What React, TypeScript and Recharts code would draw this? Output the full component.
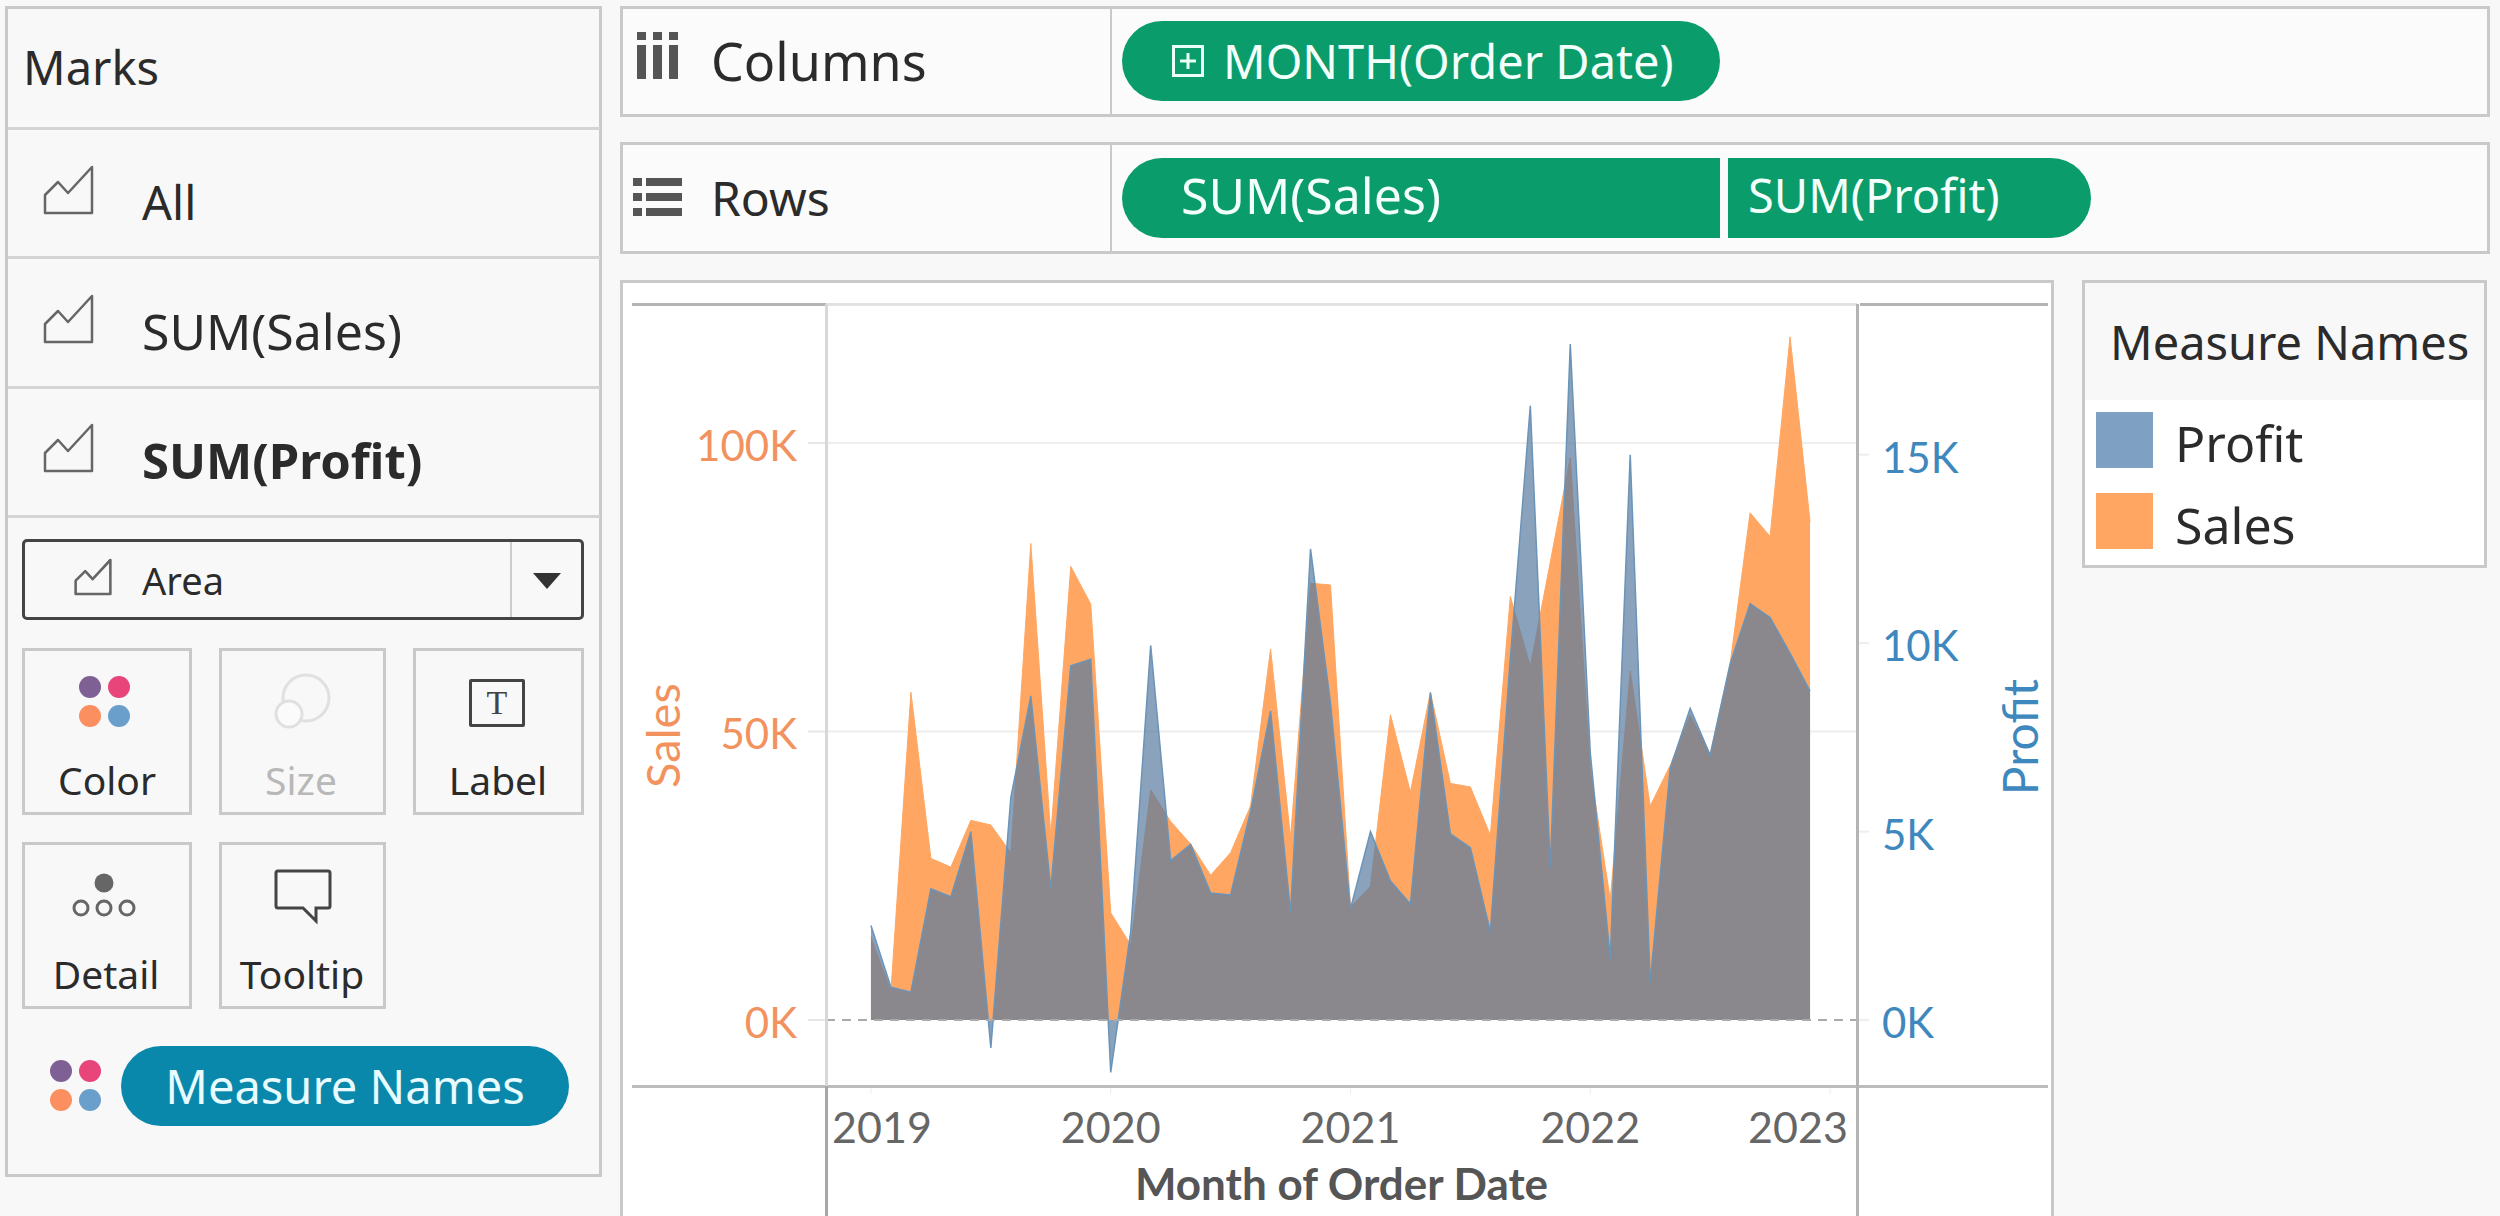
import React from "react";
import {
  Area,
  AreaChart,
  CartesianGrid,
  ReferenceLine,
  XAxis,
  YAxis,
} from "recharts";

// Jan 2019 .. Dec 2022
const sales = [
  14400, 5000, 56800, 28000, 26500, 34600, 33800, 29000, 82600, 32000, 78600, 72100,
  18600, 13000, 39900, 34400, 30500, 25100, 29000, 37100, 64300, 31600, 75700, 75400,
  19500, 23200, 52900, 39500, 56800, 41000, 40400, 32000, 73400, 61300, 79400, 97500,
  43500, 20900, 60500, 37100, 44100, 52900, 46000, 61700, 87900, 83800, 118400, 86400,
];
const profit = [
  2510, 870, 740, 3480, 3270, 5000, -740, 5900, 8600, 3480, 9400, 9570,
  -1390, 2340, 9940, 4230, 4660, 3370, 3320, 5540, 8200, 2840, 12500, 8400,
  2950, 5000, 3690, 3080, 8690, 4940, 4570, 2340, 9600, 16300, 4050, 17940,
  7100, 1630, 15000, 1000, 6680, 8270, 7030, 9450, 11050, 10680, 9730, 8730,
];
const yearTicks = [0, 12, 24, 36, 48];
const yearLabels = ["2019", "2020", "2021", "2022", "2023"];
const salesTicks = [0, 50000, 100000];
const profitTicks = [0, 5000, 10000, 15000];
const salesGrid = [50000, 100000];
const markRows = ["All", "SUM(Sales)", "SUM(Profit)"];
const legendItems = ["Profit", "Sales"];
const dotColors = ["#7f6095", "#e8457a", "#fb8f5f", "#6a9ecb"];

const chartData = sales.map((s, i) => ({ month: i, sales: s, profit: profit[i] }));

const FONT = "'Noto Sans', sans-serif";
const AXIS_FONT = "Lato, 'Noto Sans', sans-serif";
const BORDER = "#c9c9c9";
const GREEN = "#0a9c6a";
const ORANGE_TEXT = "#f2925e";
const BLUE_TEXT = "#3f88bd";

const Box = ({ l, t, w, h, style, children }: any) => (
  <div
    style={{
      position: "absolute",
      left: l,
      top: t,
      width: w,
      height: h,
      boxSizing: "border-box",
      ...style,
    }}
  >
    {children}
  </div>
);

const Txt = ({ x, y, size = 44, color = "#2b2b2b", bold, anchor, children }: any) => (
  <div
    style={{
      position: "absolute",
      left: x,
      top: y,
      transform: `translate(${anchor === "middle" ? "-50%" : "0"}, -50%)`,
      fontFamily: FONT,
      fontSize: size,
      fontWeight: bold ? 700 : 400,
      color,
      lineHeight: 1,
      whiteSpace: "nowrap",
    }}
  >
    {children}
  </div>
);

const AreaIcon = ({ x, y, w = 47, h = 46 }: any) => (
  <svg
    style={{ position: "absolute", left: x, top: y, overflow: "visible" }}
    width={w}
    height={h}
    viewBox="0 0 47 46"
  >
    <path
      d="M0 46 V28 L13 15 L23 26 L47 0 V46 Z"
      fill="none"
      stroke="#666"
      strokeWidth={47 / w > 1 ? 3.5 : 2.5}
      strokeLinejoin="round"
    />
  </svg>
);

const Dots = ({ x, y }: any) => (
  <svg style={{ position: "absolute", left: x, top: y }} width={54} height={54}>
    <circle cx={12} cy={12} r={11} fill={dotColors[0]} />
    <circle cx={41} cy={12} r={11} fill={dotColors[1]} />
    <circle cx={12} cy={41} r={11} fill={dotColors[2]} />
    <circle cx={41} cy={41} r={11} fill={dotColors[3]} />
  </svg>
);

const card = { border: `3px solid ${BORDER}` };

const YearTick = ({ x, y, payload, index }: any) => (
  <text
    x={Math.min(Math.max(x, 882), 1798)}
    y={y + 47}
    textAnchor="middle"
    fontFamily={AXIS_FONT}
    fontSize={43}
    fill="#666"
  >
    {yearLabels[index ?? yearTicks.indexOf(payload.value)]}
  </text>
);

const MarksPanel = () => (
  <>
    <Box l={5} t={6} w={597} h={1171} style={{ border: `3px solid ${BORDER}` }} />
    {[127, 256, 386, 515].map((t) => (
      <Box key={t} l={8} t={t} w={592} h={3} style={{ background: "#d4d4d4" }} />
    ))}
    <Txt x={23} y={67} size={47}>Marks</Txt>
    {markRows.map((m, i) => (
      <React.Fragment key={m}>
        <AreaIcon x={45} y={167 + i * 129} />
        <Txt x={142} y={202 + i * 129} size={i === 0 ? 47 : i === 1 ? 50 : 49} bold={i === 2}>{m}</Txt>
      </React.Fragment>
    ))}

    <Box l={22} t={539} w={562} h={81} style={{ border: "3px solid #444", borderRadius: 5 }} />
    <Box l={510} t={542} w={2} h={75} style={{ background: "#ccc" }} />
    <svg style={{ position: "absolute", left: 533, top: 573 }} width={28} height={16}>
      <path d="M0 0 H28 L14 16 Z" fill="#333" />
    </svg>
    <AreaIcon x={75} y={560} w={36} h={34} />
    <Txt x={142} y={580} size={38}>Area</Txt>

    <Box l={22} t={648} w={170} h={167} style={card} />
    <Box l={219} t={648} w={167} h={167} style={card} />
    <Box l={413} t={648} w={171} h={167} style={card} />
    <Box l={22} t={842} w={170} h={167} style={card} />
    <Box l={219} t={842} w={167} h={167} style={card} />

    <Dots x={78} y={675} />
    <Txt x={107} y={779} size={39} anchor="middle">Color</Txt>

    <svg style={{ position: "absolute", left: 270, top: 670 }} width={64} height={64}>
      <circle cx={36} cy={28} r={23} fill="none" stroke="#e0e0e0" strokeWidth={3} />
      <circle cx={19} cy={44} r={13} fill="#fbfbfb" stroke="#e0e0e0" strokeWidth={3} />
    </svg>
    <Txt x={301} y={779} size={39} color="#b8b8b8" anchor="middle">Size</Txt>

    <Box l={469} t={679} w={56} h={48} style={{ border: "3px solid #444", borderRadius: 2 }} />
    <div
      style={{
        position: "absolute",
        left: 497,
        top: 703,
        transform: "translate(-50%, -50%)",
        fontFamily: "'Liberation Serif', serif",
        fontSize: 34,
        color: "#444",
        lineHeight: 1,
      }}
    >
      T
    </div>
    <Txt x={498} y={779} size={39} anchor="middle">Label</Txt>

    <svg style={{ position: "absolute", left: 70, top: 870 }} width={70} height={52}>
      <circle cx={34} cy={13} r={9.5} fill="#666" />
      <circle cx={11} cy={38} r={7} fill="none" stroke="#666" strokeWidth={3} />
      <circle cx={34} cy={38} r={7} fill="none" stroke="#666" strokeWidth={3} />
      <circle cx={57} cy={38} r={7} fill="none" stroke="#666" strokeWidth={3} />
    </svg>
    <Txt x={106} y={973} size={39} anchor="middle">Detail</Txt>

    <svg style={{ position: "absolute", left: 270, top: 866 }} width={66} height={60}>
      <path
        d="M8 5 H58 Q60 5 60 7 V40 Q60 42 58 42 H46 V55 L33 42 H8 Q6 42 6 40 V7 Q6 5 8 5 Z"
        fill="none"
        stroke="#444"
        strokeWidth={3}
      />
    </svg>
    <Txt x={302} y={973} size={39} anchor="middle">Tooltip</Txt>

    <Dots x={49} y={1059} />
    <Box l={121} t={1046} w={448} h={80} style={{ background: "#0a88ab", borderRadius: 40 }} />
    <Txt x={345} y={1086} size={47} color="#e8fbff" anchor="middle">Measure Names</Txt>
  </>
);

const Shelves = () => (
  <>
    <Box l={620} t={6} w={1870} h={111} style={{ border: `3px solid ${BORDER}`, background: "#fbfbfb" }} />
    <Box l={620} t={142} w={1870} h={112} style={{ border: `3px solid ${BORDER}`, background: "#fbfbfb" }} />
    <Box l={1110} t={8} w={2} h={107} style={{ background: BORDER }} />
    <Box l={1110} t={145} w={2} h={106} style={{ background: BORDER }} />

    <svg style={{ position: "absolute", left: 636, top: 32 }} width={44} height={50}>
      {[0, 16, 32].map((x) => (
        <g key={x} fill="#555">
          <rect x={x + 1} y={0} width={9} height={8} />
          <rect x={x + 1} y={13} width={9} height={34} />
        </g>
      ))}
    </svg>
    <Txt x={711} y={61} size={52}>Columns</Txt>

    <svg style={{ position: "absolute", left: 633, top: 178 }} width={50} height={40}>
      {[0, 15, 30].map((y) => (
        <g key={y} fill="#555">
          <rect x={0} y={y} width={9} height={8} />
          <rect x={13} y={y} width={36} height={8} />
        </g>
      ))}
    </svg>
    <Txt x={711} y={198} size={48}>Rows</Txt>

    <Box l={1122} t={21} w={598} h={80} style={{ background: GREEN, borderRadius: 40 }} />
    <svg style={{ position: "absolute", left: 1172, top: 45 }} width={32} height={32}>
      <rect x={1.5} y={1.5} width={29} height={29} fill="none" stroke="#eafff6" strokeWidth={3} />
      <path d="M16 8 V24 M8 16 H24" stroke="#eafff6" strokeWidth={3} />
    </svg>
    <Txt x={1223} y={61} size={47} color="#f2fffa">MONTH(Order Date)</Txt>

    <Box l={1122} t={158} w={598} h={80} style={{ background: GREEN, borderRadius: "40px 0 0 40px" }} />
    <Txt x={1181} y={195} size={50} color="#f2fffa">SUM(Sales)</Txt>
    <Box l={1728} t={158} w={363} h={80} style={{ background: GREEN, borderRadius: "0 40px 40px 0" }} />
    <Txt x={1748} y={195} size={47} color="#f2fffa">SUM(Profit)</Txt>
  </>
);

const LegendBox = () => (
  <>
    <Box l={2082} t={280} w={405} h={288} style={{ border: `3px solid ${BORDER}`, background: "#fff" }} />
    <Box l={2085} t={283} w={399} h={117} style={{ background: "#f8f8f8" }} />
    <Txt x={2110} y={342} size={47}>Measure Names</Txt>
    {legendItems.map((name, i) => (
      <React.Fragment key={name}>
        <Box
          l={2096}
          t={412 + i * 81}
          w={57}
          h={56}
          style={{ background: name === "Profit" ? "#7ea1c3" : "#ffa662" }}
        />
        <Txt x={2175} y={443 + i * 82} size={50}>{name}</Txt>
      </React.Fragment>
    ))}
  </>
);

const App = () => (
  <div
    style={{
      position: "absolute",
      left: 0,
      top: 0,
      width: 2500,
      height: 1216,
      overflow: "hidden",
      background: "#f8f8f8",
    }}
  >
    <MarksPanel />
    <Shelves />
    <LegendBox />
    <Box l={620} t={280} w={1434} h={960} style={{ border: `3px solid ${BORDER}`, background: "#fff" }} />
    <div style={{ position: "absolute", left: 0, top: 0 }}>
      <AreaChart
        width={2500}
        height={1216}
        data={chartData}
        margin={{ top: 304, right: 446, bottom: 0, left: 620 }}
      >
        <CartesianGrid
          yAxisId="sales"
          vertical={false}
          horizontalValues={salesGrid}
          stroke="#eeeeee"
          strokeWidth={2}
        />
        <XAxis
          xAxisId={0}
          dataKey="month"
          type="number"
          domain={[-2.25, 49.35]}
          ticks={yearTicks}
          interval={0}
          height={130}
          axisLine={false}
          tickLine={{ stroke: "#eeeeee" }}
          tickSize={8}
          tick={<YearTick />}
          label={{
            value: "Month of Order Date",
            position: "insideBottom",
            offset: 16,
            fontFamily: AXIS_FONT,
            fontSize: 44,
            fontWeight: 700,
            fill: "#555",
          }}
        />
        <YAxis
          yAxisId="sales"
          width={206}
          domain={[-11440, 124100]}
          ticks={salesTicks}
          interval={0}
          axisLine={false}
          tickLine={{ stroke: "#e6e6e6", strokeWidth: 2 }}
          tickSize={18}
          tickMargin={11}
          tickFormatter={(v: number) => `${v / 1000}K`}
          tick={{ fontFamily: AXIS_FONT, fontSize: 42, fill: ORANGE_TEXT, dy: 3 }}
          label={{
            value: "Sales",
            angle: -90,
            position: "insideLeft",
            offset: 43,
            dy: 93,
            fontFamily: AXIS_FONT,
            fontSize: 47,
            fill: ORANGE_TEXT,
          }}
        />
        <YAxis
          yAxisId="profit"
          orientation="right"
          width={197}
          domain={[-1750, 19000]}
          ticks={profitTicks}
          interval={0}
          axisLine={false}
          tickLine={{ stroke: "#eeeeee", strokeWidth: 2 }}
          tickSize={12}
          tickMargin={13}
          tickFormatter={(v: number) => `${v / 1000}K`}
          tick={{ fontFamily: AXIS_FONT, fontSize: 42, fill: BLUE_TEXT, dy: 3 }}
          label={{
            value: "Profit",
            angle: -90,
            position: "insideRight",
            offset: 33,
            dy: -16,
            fontFamily: AXIS_FONT,
            fontSize: 48,
            fill: BLUE_TEXT,
          }}
        />
        <ReferenceLine
          yAxisId="sales"
          y={0}
          stroke="#aaaaaa"
          strokeWidth={2}
          strokeDasharray="9 7"
        />
        <Area
          yAxisId="sales"
          dataKey="sales"
          type="linear"
          baseValue={0}
          fill="#ffa662"
          fillOpacity={1}
          stroke="#ffa662"
          strokeWidth={1}
          dot={false}
          activeDot={false}
          isAnimationActive={false}
        />
        <Area
          yAxisId="profit"
          dataKey="profit"
          type="linear"
          baseValue={0}
          fill="#587ba0"
          fillOpacity={0.7}
          stroke="#6a94b8"
          strokeWidth={1.5}
          dot={false}
          activeDot={false}
          isAnimationActive={false}
        />
      </AreaChart>
    </div>
    {/* pane rules */}
    <Box l={632} t={303} w={194} h={3} style={{ background: "#b4b4b4" }} />
    <Box l={826} t={303} w={1031} h={3} style={{ background: "#e2e2e2" }} />
    <Box l={1860} t={303} w={188} h={3} style={{ background: "#b4b4b4" }} />
    <Box l={632} t={1085} w={1416} h={3} style={{ background: "#bcbcbc" }} />
    <Box l={825} t={304} w={3} h={782} style={{ background: "#d8d8d8" }} />
    <Box l={825} t={1086} w={3} h={130} style={{ background: "#a8a8a8" }} />
    <Box l={1856} t={304} w={3} h={912} style={{ background: "#b4b4b4" }} />
  </div>
);

export default App;
